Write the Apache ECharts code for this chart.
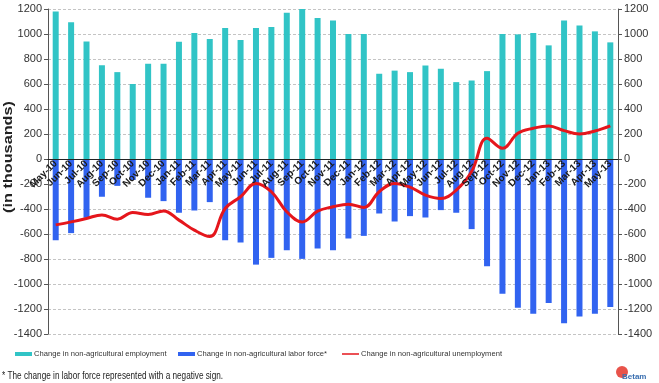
<!DOCTYPE html>
<html>
<head>
<meta charset="utf-8">
<script src="https://cdn.jsdelivr.net/npm/echarts@6/dist/echarts.min.js"></script>
<style>
html,body{margin:0;padding:0;background:#fff;}
#chart{width:659px;height:383px;}
</style>
</head>
<body>
<div id="chart"></div>
<script>
var categories = ["May-10","Jun-10","Jul-10","Aug-10","Sep-10","Oct-10","Nov-10","Dec-10",
  "Jan-11","Feb-11","Mar-11","Apr-11","May-11","Jun-11","Jul-11","Aug-11","Sep-11","Oct-11","Nov-11","Dec-11",
  "Jan-12","Feb-12","Mar-12","Apr-12","May-12","Jun-12","Jul-12","Aug-12","Sep-12","Oct-12","Nov-12","Dec-12",
  "Jan-13","Feb-13","Mar-13","Apr-13","May-13"];
var employment = [1180,1095,940,750,695,600,762,762,
  938,1008,960,1048,952,1048,1056,1171,1203,1128,1108,1000,
  1000,682,707,695,748,722,615,628,703,1000,997,1008,
  909,1109,1069,1021,933];
var laborForce = [-650,-593,-470,-302,-215,-168,-310,-337,
  -430,-412,-345,-650,-668,-845,-791,-730,-799,-716,-730,-636,
  -615,-436,-500,-457,-468,-409,-430,-561,-858,-1077,-1189,-1237,
  -1152,-1313,-1259,-1237,-1184];
var unemployment = [-527,-503,-476,-447,-481,-428,-444,-415,
  -489,-569,-620,-396,-302,-195,-262,-422,-503,-417,-382,-361,
  -388,-262,-195,-225,-289,-316,-249,-100,166,86,206,246,
  265,227,200,224,265];
var yTicksMin = -1400, yTicksMax = 1200, yStep = 200;

var sans = 'Liberation Sans';
var gridTop = 9, gridBottom = 49, chartH = 383;
var plotH = chartH - gridTop - gridBottom;
var zeroOffset = -plotH * (0 - yTicksMin) / (yTicksMax - yTicksMin);

var chart = echarts.init(document.getElementById('chart'), null, {renderer:'canvas'});
var yAxisBase = function(pos, split){
  return {
    type:'value', position:pos, min:yTicksMin, max:yTicksMax, interval:yStep,
    axisLine:{show:true, lineStyle:{color:'#555', width:1}},
    axisTick:{show:true, length:4, lineStyle:{color:'#555'}},
    axisLabel:{color:'#333', fontSize:11, fontFamily:sans, margin:6,
      formatter:function(v){return String(v);}},
    splitLine:{show:split, lineStyle:{color:'#c4c4c4', type:[3,2], width:1}}
  };
};
var legendText = {fontSize:7.6, color:'#333', fontFamily:sans, padding:[0,0,0,-3]};
chart.setOption({
  animation:false,
  grid:{left:48, right:41, top:gridTop, bottom:gridBottom, containLabel:false},
  legend:[
    {data:['Change in non-agricultural employment'],
     left:10, top:345, itemWidth:17, itemHeight:4, icon:'rect', textStyle:legendText},
    {data:['Change in non-agricultural labor force*'],
     left:173, top:345, itemWidth:17, itemHeight:4, icon:'rect', textStyle:legendText},
    {data:['Change in non-agricultural unemployment'],
     left:337, top:345, itemWidth:17, itemHeight:1.5, icon:'rect', textStyle:legendText}
  ],
  xAxis:{
    type:'category', data:categories, boundaryGap:true, position:'bottom', offset:zeroOffset, z:10,
    axisLine:{onZero:false, lineStyle:{color:'#222', width:1}},
    axisTick:{show:false},
    axisLabel:{rotate:45, interval:0, fontSize:10, fontWeight:'bold', color:'#1a1a1a',
      fontFamily:sans, margin:3}
  },
  yAxis:[yAxisBase('left', true), yAxisBase('right', false)],
  series:[
    {name:'Change in non-agricultural employment', type:'bar', data:employment,
     barWidth:6, barGap:'-100%', itemStyle:{color:'#31C4C6'}, z:2},
    {name:'Change in non-agricultural labor force*', type:'bar', data:laborForce,
     barWidth:6, barGap:'-100%', itemStyle:{color:'#3163F0'}, z:2},
    {name:'Change in non-agricultural unemployment', type:'line', data:unemployment,
     smooth:0.4, symbol:'none', lineStyle:{color:'#E5161C', width:3}, itemStyle:{color:'#E5161C'}, z:5}
  ],
  graphic:[
    {type:'text', x:8, y:157, rotation:Math.PI/2, scaleX:1.25,
     style:{text:'(in thousands)', fontSize:13, fontWeight:'bold', fill:'#222',
       fontFamily:sans, align:'center', verticalAlign:'middle'}},
    {type:'text', x:2, y:371, scaleX:0.82,
     style:{text:'* The change in labor force represented with a negative sign.', fontSize:10, fill:'#222',
       fontFamily:sans}},
    {type:'circle', shape:{cx:622, cy:372, r:6}, style:{fill:'#e8534a'}},
    {type:'text', x:622, y:373, style:{text:'Betam', fontSize:8, fill:'#3a6fb0', fontWeight:'bold', fontFamily:sans}}
  ]
});
</script>
</body>
</html>
